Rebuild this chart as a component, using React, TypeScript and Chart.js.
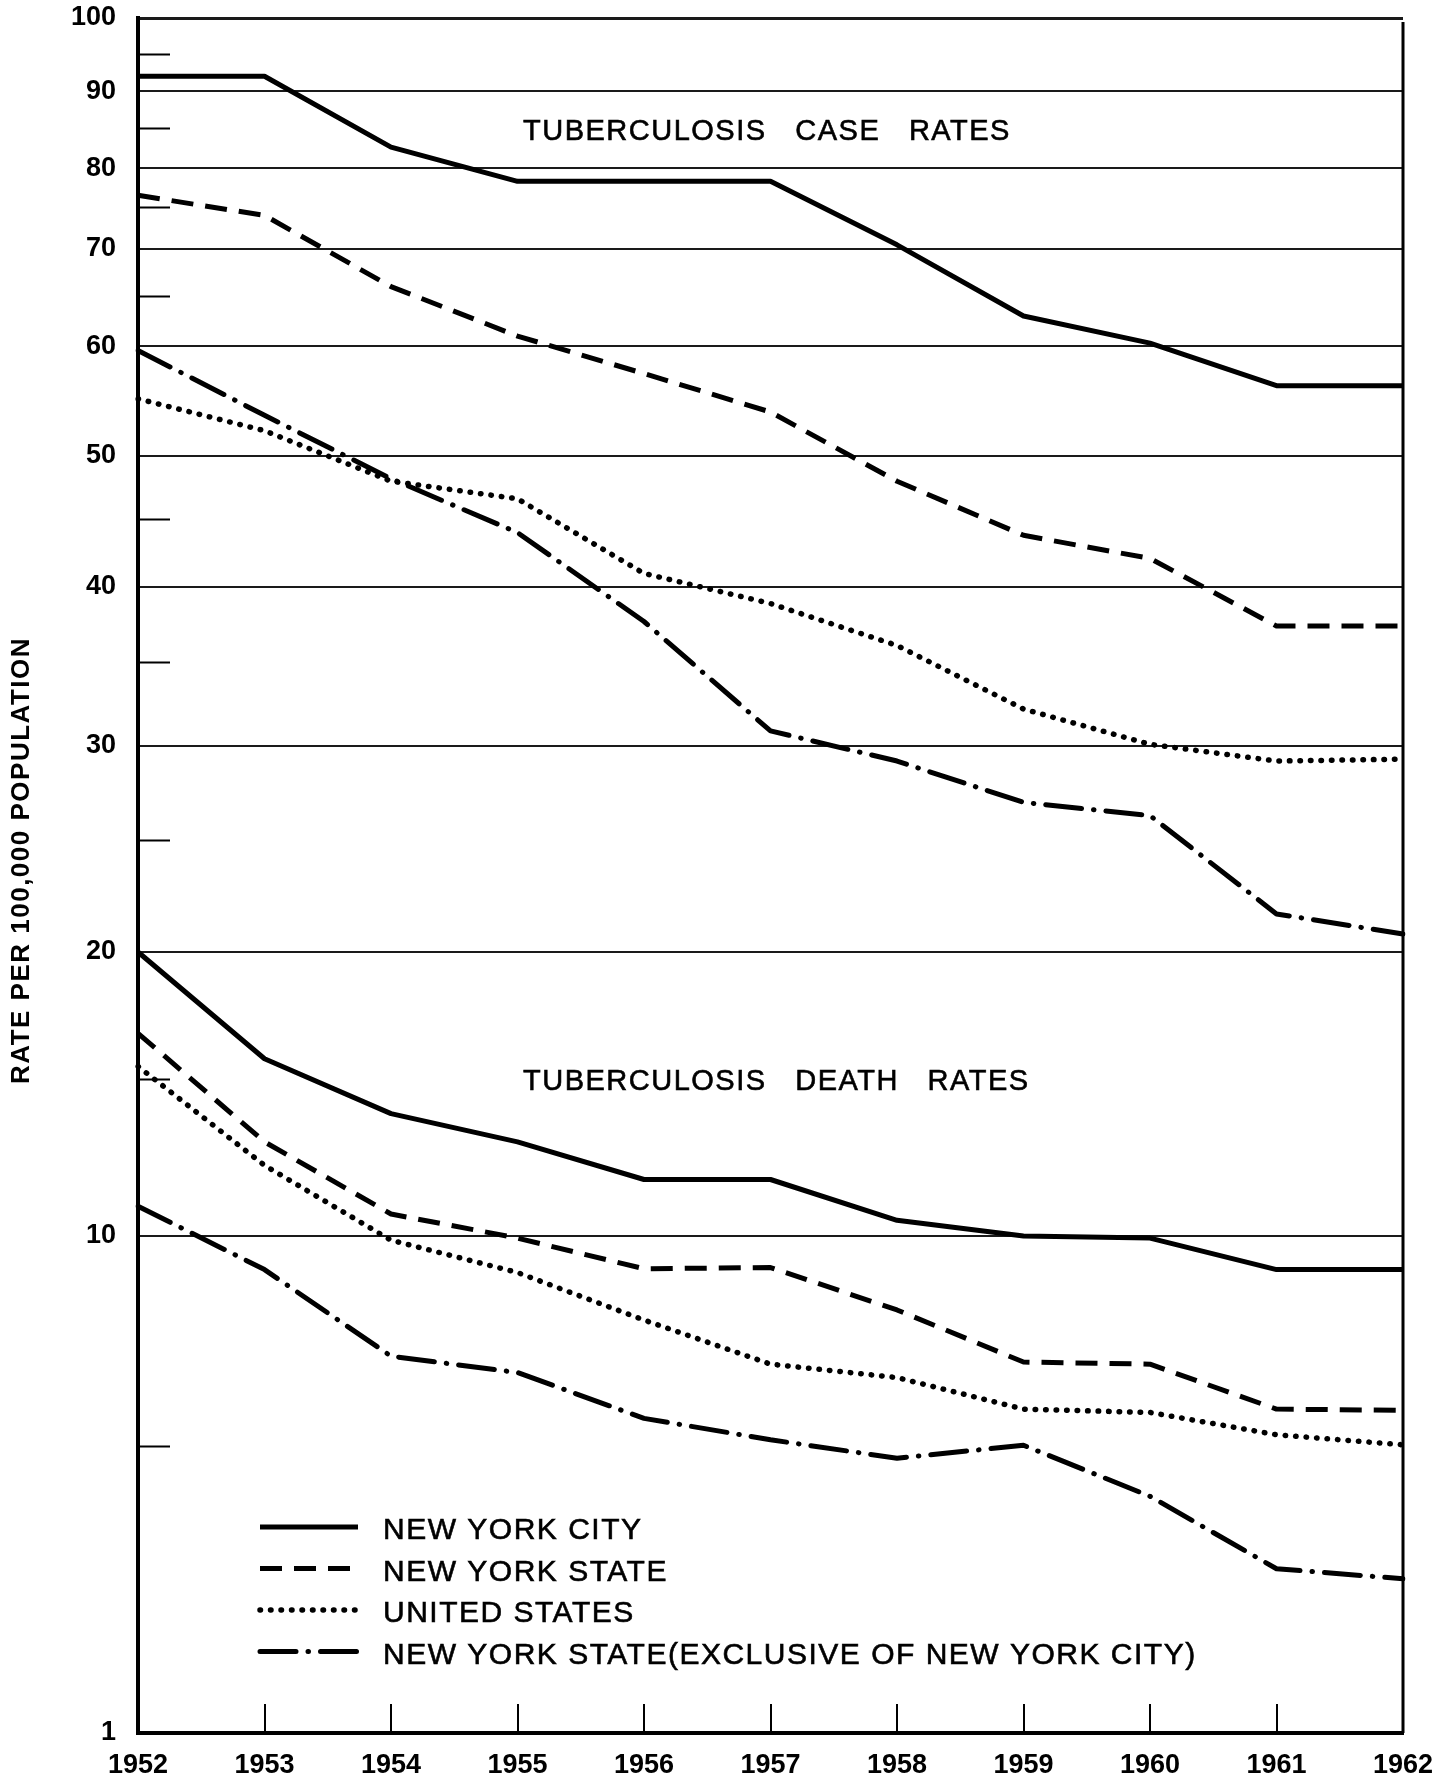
import React, { useEffect, useRef } from 'react';
import { Chart, Scale, registerables } from 'chart.js';

// ---------------- data ----------------
const YEARS = [1952, 1953, 1954, 1955, 1956, 1957, 1958, 1959, 1960, 1961, 1962];

const SERIES_NAMES = [
  'NEW YORK CITY',
  'NEW YORK STATE',
  'UNITED STATES',
  'NEW YORK STATE(EXCLUSIVE OF NEW YORK CITY)',
];

// Tuberculosis case rates per 100,000
const CASE_NYC = [92, 92, 82.6, 78.3, 78.3, 78.3, 70.5, 63, 60.3, 56.4, 56.4];
const CASE_NYS = [76.5, 74, 66, 61, 57.5, 54, 48, 43.8, 42.1, 37.4, 37.4];
const CASE_US = [55.2, 52.3, 48, 46.6, 41, 38.9, 36.1, 32.2, 30.1, 29.2, 29.3];
const CASE_NYS_EXCL = [59.6, 53.7, 48.2, 44, 37.7, 30.9, 29.2, 27.0, 26.3, 21.7, 20.8];

// Tuberculosis death rates per 100,000
const DEATH_NYC = [20, 15.8, 13.9, 13.0, 11.8, 11.8, 10.5, 10.0, 9.95, 9.2, 9.2];
const DEATH_NYS = [16.8, 13.0, 10.7, 9.95, 9.22, 9.25, 8.24, 7.0, 6.95, 5.88, 5.85];
const DEATH_US = [15.5, 12.25, 9.9, 9.13, 8.0, 6.95, 6.63, 5.88, 5.8, 5.27, 5.03];
const DEATH_NYS_EXCL = [10.95, 9.2, 7.14, 6.75, 5.66, 5.15, 4.83, 5.02, 4.3, 3.29, 3.15];

const MAJOR_TICKS = [1, 10, 20, 30, 40, 50, 60, 70, 80, 90, 100];
const MINOR_TICKS = [5, 15, 25, 35, 45, 65, 75, 85, 95];

const TITLE_CASE = 'TUBERCULOSIS   CASE   RATES';
const TITLE_DEATH = 'TUBERCULOSIS   DEATH   RATES';
const Y_TITLE = 'RATE PER 100,000 POPULATION';

// ---------------- axis definition (hand-ruled, non-uniform value axis) ----------------
const AXIS_ANCHOR_VALUES = [1, 5, 10, 15, 20, 25, 30, 35, 40, 45, 50, 60, 65, 70, 75, 80, 85, 90, 95, 100];
const AXIS_ANCHOR_FRACTIONS = [
  0, 0.1673, 0.2898, 0.3813, 0.4554, 0.5207, 0.5755, 0.6245, 0.6682, 0.7079, 0.7446,
  0.8087, 0.8379, 0.8653, 0.8898, 0.9125, 0.9359, 0.9574, 0.979, 1,
];

class AnchoredScale extends Scale {
  static id = 'anchored';
  static defaults = {};

  determineDataLimits() {
    this.min = AXIS_ANCHOR_VALUES[0];
    this.max = AXIS_ANCHOR_VALUES[AXIS_ANCHOR_VALUES.length - 1];
  }

  buildTicks() {
    const vals = [...MAJOR_TICKS, ...MINOR_TICKS].sort((a, b) => a - b);
    return vals.map((v) => ({ value: v }));
  }

  getLabelForValue(v: number) {
    return String(v);
  }

  decimalForValue(value: number) {
    const a = AXIS_ANCHOR_VALUES;
    const f = AXIS_ANCHOR_FRACTIONS;
    if (value <= a[0]) return f[0];
    for (let i = 1; i < a.length; i++) {
      if (value <= a[i]) {
        const t = (value - a[i - 1]) / (a[i] - a[i - 1]);
        return f[i - 1] + t * (f[i] - f[i - 1]);
      }
    }
    return f[f.length - 1];
  }

  getPixelForValue(value: number) {
    return this.getPixelForDecimal(this.decimalForValue(value));
  }

  getValueForPixel(pixel: number) {
    const d = this.getDecimalForPixel(pixel);
    const a = AXIS_ANCHOR_VALUES;
    const f = AXIS_ANCHOR_FRACTIONS;
    if (d <= f[0]) return a[0];
    for (let i = 1; i < f.length; i++) {
      if (d <= f[i]) {
        const t = (d - f[i - 1]) / (f[i] - f[i - 1]);
        return a[i - 1] + t * (a[i] - a[i - 1]);
      }
    }
    return a[a.length - 1];
  }
}

Chart.register(...registerables, AnchoredScale as any);

// ---------------- styles ----------------
const LINE_STYLES = [
  { borderDash: [] as number[], borderCapStyle: 'butt', borderWidth: 5 },
  { borderDash: [22, 12], borderCapStyle: 'butt', borderWidth: 5 },
  { borderDash: [0.5, 10], borderCapStyle: 'round', borderWidth: 5.5 },
  { borderDash: [36, 12, 0.5, 12], borderCapStyle: 'round', borderWidth: 5 },
];

const FONT = 'Liberation Sans';

const decorPlugin = {
  id: 'decor',
  afterDraw(chart: any) {
    const { ctx, chartArea: ca, scales } = chart;
    const xs = scales.x;
    const ys = scales.y;
    ctx.save();
    ctx.strokeStyle = '#000';
    ctx.fillStyle = '#000';

    // right frame line
    ctx.lineWidth = 3;
    ctx.beginPath();
    ctx.moveTo(ca.right, ca.top + 4);
    ctx.lineTo(ca.right, ca.bottom);
    ctx.stroke();

    // minor ticks on value axis
    ctx.lineWidth = 2;
    MINOR_TICKS.forEach((v) => {
      const py = Math.round(ys.getPixelForValue(v)) + 0.5;
      ctx.beginPath();
      ctx.moveTo(ca.left + 2, py);
      ctx.lineTo(ca.left + 32, py);
      ctx.stroke();
    });

    // year ticks rising from the bottom axis
    YEARS.forEach((_, i) => {
      if (i === 0 || i === YEARS.length - 1) return;
      const px = Math.round(xs.getPixelForValue(i));
      ctx.beginPath();
      ctx.moveTo(px, ca.bottom - 2);
      ctx.lineTo(px, ca.bottom - 29);
      ctx.stroke();
    });

    // section titles
    ctx.font = `normal 29px "${FONT}"`;
    (ctx as any).letterSpacing = '1.5px';
    ctx.textAlign = 'left';
    ctx.textBaseline = 'middle';
    ctx.lineWidth = 0.6;
    [
      [TITLE_CASE, 84.5],
      [TITLE_DEATH, 14.9],
    ].forEach(([t, v]) => {
      const yy = ys.getPixelForValue(v as number);
      ctx.fillText(t as string, ca.left + 385, yy);
      ctx.strokeText(t as string, ca.left + 385, yy);
    });

    // legend
    const legX = ca.left + 122;
    const legTextX = ca.left + 245;
    const legTop = ca.bottom - 206;
    const rowH = 41.5;
    SERIES_NAMES.forEach((name, i) => {
      const st = LINE_STYLES[i];
      const yy = legTop + i * rowH;
      ctx.save();
      ctx.lineWidth = st.borderWidth;
      ctx.lineCap = st.borderCapStyle as CanvasLineCap;
      ctx.setLineDash(st.borderDash);
      ctx.beginPath();
      ctx.moveTo(legX, yy);
      ctx.lineTo(legX + 98, yy);
      ctx.stroke();
      ctx.restore();
      ctx.font = `normal 30px "${FONT}"`;
      (ctx as any).letterSpacing = '1.5px';
      ctx.textAlign = 'left';
      ctx.textBaseline = 'middle';
      ctx.lineWidth = 0.6;
      ctx.fillText(name, legTextX, yy + 4);
      ctx.strokeText(name, legTextX, yy + 4);
    });

    // value-axis title
    ctx.save();
    ctx.translate(ca.left - 116, (ca.top + ca.bottom) / 2 - 15);
    ctx.rotate(-Math.PI / 2);
    ctx.font = `bold 26px "${FONT}"`;
    (ctx as any).letterSpacing = '1.5px';
    ctx.textAlign = 'center';
    ctx.textBaseline = 'middle';
    ctx.fillText(Y_TITLE, 0, 0);
    ctx.restore();

    ctx.restore();
  },
};

function buildDatasets() {
  const caseSeries = [CASE_NYC, CASE_NYS, CASE_US, CASE_NYS_EXCL];
  const deathSeries = [DEATH_NYC, DEATH_NYS, DEATH_US, DEATH_NYS_EXCL];
  const mk = (data: number[], i: number, kind: string) => ({
    label: `${SERIES_NAMES[i]} – ${kind}`,
    data,
    borderColor: '#000',
    backgroundColor: '#000',
    borderWidth: LINE_STYLES[i].borderWidth,
    borderDash: LINE_STYLES[i].borderDash,
    borderCapStyle: LINE_STYLES[i].borderCapStyle,
    borderJoinStyle: 'round',
    pointRadius: 0,
    pointHoverRadius: 0,
    tension: 0,
    fill: false,
  });
  return [
    ...caseSeries.map((d, i) => mk(d, i, 'case rate')),
    ...deathSeries.map((d, i) => mk(d, i, 'death rate')),
  ];
}

export default function App() {
  const ref = useRef<HTMLCanvasElement>(null);

  useEffect(() => {
    document.body.style.margin = '0';
    const canvas = ref.current!;
    const tickFont = { family: FONT, size: 27, weight: 'bold' as const };
    const chart = new Chart(canvas, {
      type: 'line',
      data: {
        labels: YEARS.map(String),
        datasets: buildDatasets() as any,
      },
      plugins: [decorPlugin],
      options: {
        animation: false,
        responsive: false,
        devicePixelRatio: 1,
        events: [],
        layout: { padding: { top: 18, right: 40, bottom: 0, left: 0 } },
        plugins: {
          legend: { display: false },
          tooltip: { enabled: false },
          title: { display: false },
        },
        scales: {
          x: {
            type: 'category',
            offset: false,
            grid: { display: false, drawTicks: false },
            border: { display: true, width: 4, color: '#000' },
            ticks: {
              font: tickFont,
              color: '#000',
              padding: 16,
              autoSkip: false,
              maxRotation: 0,
            },
            afterFit: (s: any) => {
              s.height = 50;
              s.paddingLeft = 0;
              s.paddingRight = 0;
            },
          },
          y: {
            type: 'anchored' as any,
            position: 'left',
            grid: {
              drawTicks: false,
              color: (c: any) => {
                const v = c.tick ? c.tick.value : null;
                if (v === null || v === 1) return 'rgba(0,0,0,0)';
                return MAJOR_TICKS.includes(v) ? '#1a1a1a' : 'rgba(0,0,0,0)';
              },
              lineWidth: (c: any) => (c.tick && c.tick.value === 100 ? 3 : 2),
            },
            border: { display: true, width: 4, color: '#000' },
            ticks: {
              font: tickFont,
              color: '#000',
              padding: 22,
              autoSkip: false,
              callback: (v: any) => (MAJOR_TICKS.includes(Number(v)) ? String(v) : ''),
            },
            afterFit: (s: any) => {
              s.width = 138;
              s.paddingTop = 0;
              s.paddingBottom = 0;
            },
          } as any,
        },
      },
    } as any);
    return () => chart.destroy();
  }, []);

  return (
    <div style={{ position: 'absolute', left: 0, top: 0, width: 1443, height: 1783, background: '#fff' }}>
      <canvas ref={ref} width={1443} height={1783} style={{ display: 'block', width: 1443, height: 1783 }} />
    </div>
  );
}
